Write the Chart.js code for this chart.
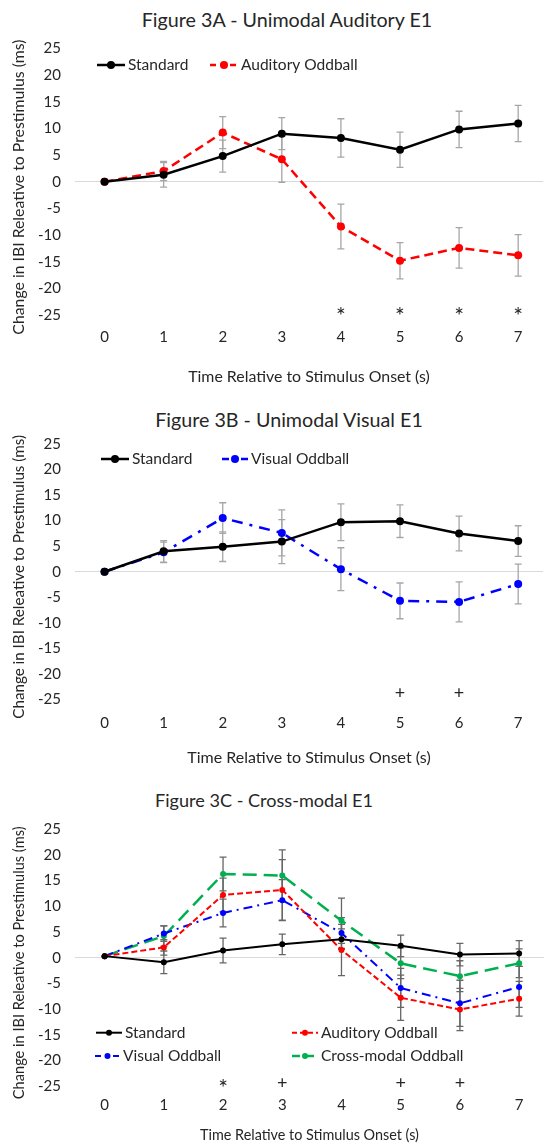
<!DOCTYPE html>
<html>
<head>
<meta charset="utf-8">
<script src="https://cdn.jsdelivr.net/npm/chart.js@4.4.1/dist/chart.umd.min.js"></script>
<style>
  body { margin: 0; background: #fff; width: 547px; height: 1144px; position: relative; overflow: hidden; font-family: Lato, sans-serif; }
  .box { position: absolute; left: 0; width: 547px; }
  .ttl { position: absolute; line-height: 22px; color: #262626; white-space: nowrap; transform: translateX(-50%); }
</style>
</head>
<body>
<div class="ttl" style="left:287px;top:9px;font-size:19.7px">Figure 3A - Unimodal Auditory E1</div>
<div class="ttl" style="left:289px;top:409px;font-size:19.7px">Figure 3B - Unimodal Visual E1</div>
<div class="ttl" style="left:264px;top:789px;font-size:18.1px">Figure 3C - Cross-modal E1</div>
<div class="box" style="top:0;height:395px"><canvas id="chartA"></canvas></div>
<div class="box" style="top:395px;height:380px"><canvas id="chartB"></canvas></div>
<div class="box" style="top:775px;height:369px"><canvas id="chartC"></canvas></div>
<script>
// ==== DATOS ====
const timeLabels = [0, 1, 2, 3, 4, 5, 6, 7];
const yTicks = [-25, -20, -15, -10, -5, 0, 5, 10, 15, 20, 25];

// Figure 3A
const stdA = [0, 1.3, 4.8, 9.0, 8.2, 6.0, 9.8, 10.9];
const stdAErr = [0, 2.3, 3.0, 3.0, 3.6, 3.3, 3.4, 3.4];
const audA = [0, 2.0, 9.2, 4.2, -8.4, -14.8, -12.4, -13.8];
const audAErr = [0, 1.8, 3.0, 4.3, 4.2, 3.4, 3.8, 3.9];
const sigA = ["", "", "", "", "*", "*", "*", "*"];

// Figure 3B
const stdB = [0, 4.0, 4.9, 5.9, 9.7, 9.9, 7.5, 6.0];
const stdBErr = [0, 2.1, 2.9, 4.3, 3.6, 3.2, 3.4, 3.0];
const visB = [0, 3.8, 10.5, 7.6, 0.5, -5.7, -5.9, -2.4];
const visBErr = [0, 2.0, 3.0, 4.5, 4.2, 3.5, 3.9, 3.9];
const sigB = ["", "", "", "", "", "+", "+", ""];

// Figure 3C
const stdC = [0.3, -0.9, 1.4, 2.6, 3.6, 2.3, 0.6, 0.8];
const stdCErr = [0, 2.2, 2.4, 2.0, 2.0, 2.1, 2.2, 2.5];
const audC = [0.3, 2.0, 12.2, 13.2, 1.5, -7.8, -10.1, -8.0];
const audCErr = [0, 1.5, 3.3, 5.9, 5.0, 4.4, 4.1, 3.4];
const visC = [0.3, 4.7, 8.7, 11.2, 4.8, -5.9, -8.9, -5.7];
const visCErr = [0, 1.5, 2.7, 4.0, 3.0, 3.8, 4.5, 4.0];
const crossC = [0.3, 4.2, 16.3, 16.0, 7.2, -1.1, -3.6, -1.1];
const crossCErr = [0, 2.0, 3.3, 5.0, 4.4, 3.0, 3.0, 2.8];
const sigC = ["", "", "*", "+", "", "+", "+", ""];

const TEXT = "#262626";
Chart.defaults.font.family = "Lato, sans-serif";
Chart.defaults.color = TEXT;

function pts(arr) {
  return arr.map((v, i) => ({ x: timeLabels[i], y: v }));
}

function serie(label, data, errors, color, dash, width, radius) {
  return {
    label, data: pts(data), errors,
    borderColor: color, backgroundColor: color,
    borderDash: dash, borderWidth: width,
    pointRadius: radius, pointHoverRadius: radius, pointBorderWidth: 0,
    tension: 0, fill: false
  };
}

// plugin por gráfico: barras de error, marcas de significancia y leyenda
function extras(sig, sigValue, errColor, legend) {
  return {
    id: "extras",
    beforeDatasetsDraw(chart) {
      const ctx = chart.ctx, y = chart.scales.y;
      ctx.save();
      ctx.strokeStyle = errColor;
      ctx.lineWidth = 1.3;
      chart.data.datasets.forEach((ds, i) => {
        const meta = chart.getDatasetMeta(i);
        ds.errors.forEach((e, j) => {
          if (!e) return;
          const px = meta.data[j].x, v = ds.data[j].y;
          const top = y.getPixelForValue(v + e), bot = y.getPixelForValue(v - e);
          ctx.beginPath();
          ctx.moveTo(px, top); ctx.lineTo(px, bot);
          ctx.moveTo(px - 3.5, top); ctx.lineTo(px + 3.5, top);
          ctx.moveTo(px - 3.5, bot); ctx.lineTo(px + 3.5, bot);
          ctx.stroke();
        });
      });
      ctx.restore();
    },
    afterDatasetsDraw(chart) {
      const ctx = chart.ctx, x = chart.scales.x, y = chart.scales.y;
      ctx.save();
      ctx.fillStyle = TEXT;
      ctx.textAlign = "center";
      ctx.textBaseline = "middle";
      sig.forEach((s, i) => {
        if (!s) return;
        const star = s === "*";
        ctx.font = (star ? "23px" : "18px") + " Lato, sans-serif";
        ctx.fillText(s, x.getPixelForValue(timeLabels[i]), y.getPixelForValue(sigValue) + (star ? 5 : 0));
      });
      // leyenda
      ctx.font = "15.5px Lato, sans-serif";
      ctx.textAlign = "left";
      legend.forEach(it => {
        const ds = chart.data.datasets[it.ds];
        ctx.strokeStyle = ds.borderColor;
        ctx.lineWidth = ds.borderWidth;
        ctx.setLineDash(it.dash || ds.borderDash || []);
        ctx.beginPath();
        ctx.moveTo(it.x1, it.y); ctx.lineTo(it.x2, it.y);
        ctx.stroke();
        ctx.setLineDash([]);
        ctx.fillStyle = ds.borderColor;
        ctx.beginPath();
        ctx.arc((it.x1 + it.x2) / 2, it.y, ds.pointRadius, 0, Math.PI * 2);
        ctx.fill();
        ctx.fillStyle = TEXT;
        ctx.fillText(ds.label, it.x2 + 3, it.y);
      });
      ctx.restore();
    }
  };
}

function makeChart(id, datasets, o) {
  const ctx = document.getElementById(id).getContext("2d");
  return new Chart(ctx, {
    type: "line",
    data: { datasets },
    options: {
      responsive: true, maintainAspectRatio: false, animation: false,
      layout: { padding: { top: o.padTop, left: 0, right: 0, bottom: 0 } },
      plugins: { legend: { display: false }, tooltip: { enabled: false } },
      scales: {
        x: {
          type: "linear", min: -0.5, max: 7.42,
          afterBuildTicks(s) { s.ticks = timeLabels.map(v => ({ value: v })); },
          afterFit(s) { s.height = o.xH; },
          grid: { display: false, drawTicks: false },
          border: { display: false },
          ticks: { padding: o.xPad, font: { size: 15 }, color: TEXT },
          title: { display: true, text: "Time Relative to Stimulus Onset (s)", font: { size: o.xTitleSize }, color: TEXT, padding: { top: 0, bottom: o.titlePad } }
        },
        y: {
          min: -27, max: 25,
          afterBuildTicks(s) { s.ticks = yTicks.map(v => ({ value: v })); },
          afterFit(s) { s.width = 75; },
          grid: { drawTicks: false, lineWidth: 1, color: c => (c.tick && c.tick.value === 0 ? "#d9d9d9" : "rgba(0,0,0,0)") },
          border: { display: false },
          ticks: { padding: 14, font: { size: 15 }, color: TEXT },
          title: { display: true, text: "Change in IBI Releative to Prestimulus (ms)", font: { size: o.yTitleSize }, color: TEXT, padding: { top: 19 - o.yTitleSize * 0.6, bottom: 0 } }
        }
      }
    },
    plugins: [extras(o.sig, o.sigValue, o.errColor, o.legend)]
  });
}

// ==== FIGURA 3A ====
makeChart("chartA", [
  serie("Standard", stdA, stdAErr, "#000000", [], 2.5, 4),
  serie("Auditory Oddball", audA, audAErr, "#ff0000", [9, 5], 2.5, 4)
], {
  padTop: 48.3, xH: 69.2, xPad: 2, xTitleSize: 15.9, titlePad: 8.5, yTitleSize: 15.8,
  sig: sigA, sigValue: -24.4, errColor: "#a6a6a6",
  legend: [
    { ds: 0, x1: 97, x2: 125, y: 65 },
    { ds: 1, x1: 210, x2: 238, y: 65, dash: [6, 4] }
  ]
});

// ==== FIGURA 3B ====
makeChart("chartB", [
  serie("Standard", stdB, stdBErr, "#000000", [], 2.5, 4),
  serie("Visual Oddball", visB, visBErr, "#0000ff", [11, 7, 3, 7], 2.5, 4)
], {
  padTop: 49, xH: 65.3, xPad: 4.5, xTitleSize: 16, titlePad: 7.4, yTitleSize: 15.2,
  sig: sigB, sigValue: -23.8, errColor: "#a6a6a6",
  legend: [
    { ds: 0, x1: 101, x2: 129, y: 64 },
    { ds: 1, x1: 222, x2: 248, y: 64, dash: [7, 5, 2, 5] }
  ]
});

// ==== FIGURA 3C ====
makeChart("chartC", [
  serie("Standard", stdC, stdCErr, "#000000", [], 2, 3),
  serie("Auditory Oddball", audC, audCErr, "#ff0000", [6, 3], 2, 3),
  serie("Visual Oddball", visC, visCErr, "#0000ff", [9, 5, 2, 5], 2, 3),
  serie("Cross-modal Oddball", crossC, crossCErr, "#00b050", [14, 7], 2.5, 3)
], {
  padTop: 54.3, xH: 47.7, xPad: 0, xTitleSize: 14.4, titlePad: 0.4, yTitleSize: 14.6,
  sig: sigC, sigValue: -24.5, errColor: "#666666",
  legend: [
    { ds: 0, x1: 96, x2: 122, y: 257.7 },
    { ds: 1, x1: 292, x2: 318, y: 257.7, dash: [5, 3] },
    { ds: 2, x1: 95, x2: 120, y: 281, dash: [6, 5, 2, 5] },
    { ds: 3, x1: 292, x2: 318, y: 281, dash: [8, 6] }
  ]
});
</script>
</body>
</html>
